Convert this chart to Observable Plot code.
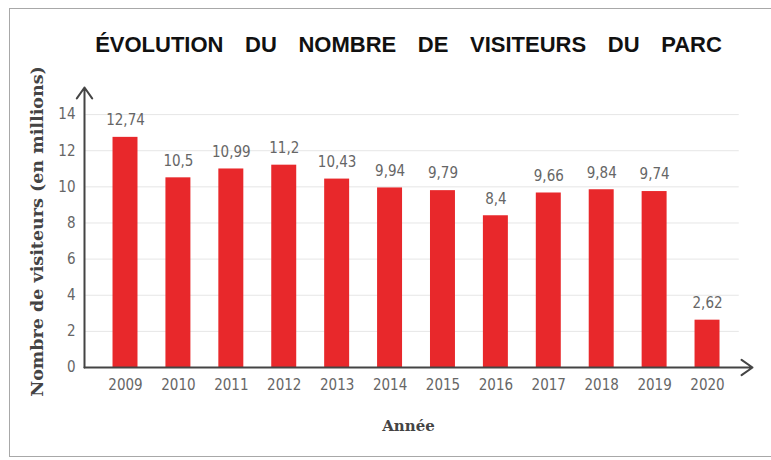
<!DOCTYPE html>
<html>
<head>
<meta charset="utf-8">
<script src="https://cdn.jsdelivr.net/npm/d3@7"></script>
<script src="https://cdn.jsdelivr.net/npm/@observablehq/plot@0.6"></script>
<style>
  html, body { margin: 0; padding: 0; background: #fff; }
  #wrap { position: relative; width: 771px; height: 460px; overflow: hidden; }
  #border { position: absolute; left: 9px; top: 8px; width: 775px; height: 449px; border: 1.5px solid #a8a8a8; box-sizing: border-box; }
  #title { position: absolute; left: 0; width: 771px; top: 32px; text-align: center; font-family: "Liberation Sans", Arial, sans-serif; font-weight: bold; font-size: 22px; word-spacing: 15.5px; color: #111; padding-left: 46px; box-sizing: border-box; }
  #chart { position: absolute; left: 0; top: 0; }
</style>
</head>
<body>
<div id="wrap">
  <div id="border"></div>
  <div id="title">ÉVOLUTION DU NOMBRE DE VISITEURS DU PARC</div>
  <div id="chart"></div>
</div>
<script>
const years = [2009, 2010, 2011, 2012, 2013, 2014, 2015, 2016, 2017, 2018, 2019, 2020];
const visitors = [12.74, 10.5, 10.99, 11.2, 10.43, 9.94, 9.79, 8.4, 9.66, 9.84, 9.74, 2.62];
const yTicks = [0, 2, 4, 6, 8, 10, 12, 14];
const yLabel = "Nombre de visiteurs (en millions)";
const xLabel = "Année";

const data = years.map((y, i) => ({year: y, value: visitors[i], label: String(visitors[i]).replace(".", ",")}));

const xMin = 2008.225, xMax = 2020.85;
const yMax = 15.5;
const half = 0.236;

const tickFont = '"DejaVu Sans Condensed", "DejaVu Sans", sans-serif';
const labelFont = '"DejaVu Serif", serif';

const plot = Plot.plot({
  width: 771,
  height: 460,
  marginLeft: 84,
  marginRight: 19,
  marginTop: 87,
  marginBottom: 93,
  style: {fontFamily: tickFont, fontSize: "15px", color: "#666", background: "transparent"},
  x: {domain: [xMin, xMax], axis: null},
  y: {domain: [0, yMax], axis: null},
  marks: [
    Plot.ruleY(yTicks.slice(1), {x1: xMin, x2: 2020.6, stroke: "#e6e6e6", strokeWidth: 1}),
    Plot.rectY(data, {x1: d => d.year - half, x2: d => d.year + half, y1: 0, y2: "value", fill: "#e8282b"}),
    Plot.axisX({ticks: years, tickFormat: d => String(d), tickSize: 0, tickPadding: 12, label: null, fontSize: 15, fill: "#666"}),
    Plot.axisY({ticks: yTicks, tickSize: 0, tickPadding: 9, label: null, fontSize: 15, fill: "#666"}),
    Plot.arrow([{}], {x1: xMin, y1: 0, x2: xMin, y2: yMax, stroke: "#444", strokeWidth: 2, headLength: 10, headAngle: 70}),
    Plot.arrow([{}], {x1: xMin, y1: 0, x2: xMax, y2: 0, stroke: "#444", strokeWidth: 2, headLength: 10, headAngle: 70}),
    Plot.text(data, {x: "year", y: "value", text: "label", dy: -17, fill: "#666", fontSize: 15}),
    Plot.text([yLabel], {frameAnchor: "left", textAnchor: "middle", rotate: -90, dx: -47, dy: 4, fontFamily: labelFont, fontWeight: "bold", fontSize: 17.5, fill: "#444"}),
    Plot.text([xLabel], {frameAnchor: "bottom", textAnchor: "middle", dx: -10, dy: 63, fontFamily: labelFont, fontWeight: "bold", fontSize: 15, fill: "#444"})
  ]
});
document.getElementById("chart").appendChild(plot);
</script>
</body>
</html>
